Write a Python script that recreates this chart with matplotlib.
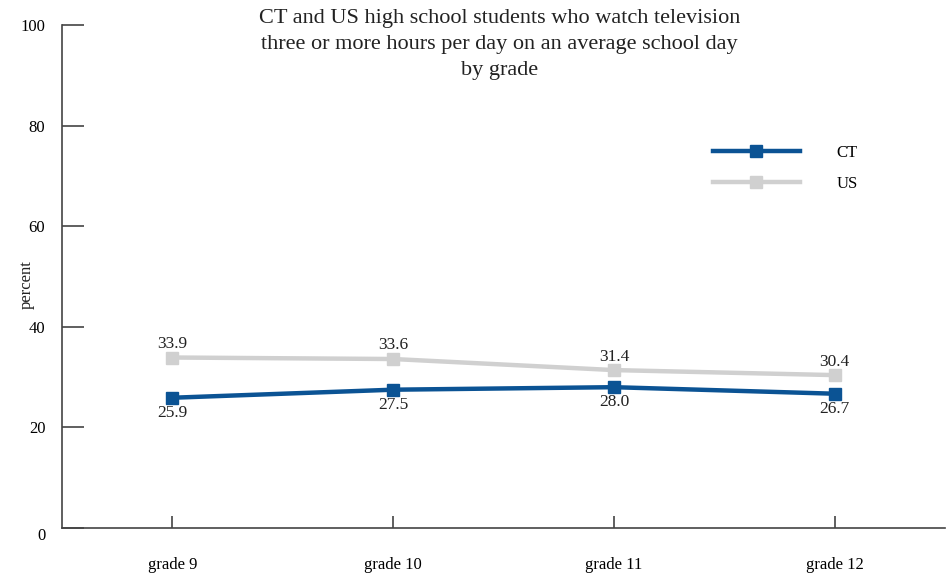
import matplotlib.pyplot as plt

plt.rcParams['font.family'] = ['Liberation Serif', 'DejaVu Serif']

grades = ['grade 9', 'grade 10', 'grade 11', 'grade 12']
ct = [25.9, 27.5, 28.0, 26.7]
us = [33.9, 33.6, 31.4, 30.4]

blue = '#0b5394'
gray = '#d0d0d0'

fig = plt.figure(figsize=(9.52, 5.74), dpi=100)
ax = fig.add_axes([0.0651, 0.0801, 0.9276, 0.8763])

x = range(len(grades))
ax.plot(x, us, color=gray, lw=3.2, marker='s', ms=8, label='US', zorder=2)
ax.plot(x, ct, color=blue, lw=3.2, marker='s', ms=8, label='CT', zorder=3)

for i in x:
    ax.annotate(f'{us[i]:.1f}', (i, us[i]), xytext=(0, 4), textcoords='offset points',
                ha='center', va='bottom', fontsize=12.5, color='#222222')
    ax.annotate(f'{ct[i]:.1f}', (i, ct[i]), xytext=(0, -5), textcoords='offset points',
                ha='center', va='top', fontsize=12.5, color='#222222')

ax.set_xlim(-0.5, 3.5)
ax.set_ylim(0, 100)
ax.set_yticks([0, 20, 40, 60, 80, 100])
ax.set_xticks(list(x))
ax.set_xticklabels(grades)
ax.tick_params(axis='y', direction='in', length=16, width=1.2, color='#444444',
               labelsize=12, pad=12)
ax.tick_params(axis='x', direction='in', length=9, width=1.2, color='#444444',
               labelsize=12, pad=21)
for lab in ax.get_yticklabels():
    if lab.get_text() == '0':
        lab.set_va('top')

for s in ['top', 'right']:
    ax.spines[s].set_visible(False)
for s in ['left', 'bottom']:
    ax.spines[s].set_color('#444444')
    ax.spines[s].set_linewidth(1.2)

fig.text(27 / 952, 1 - 285 / 574, 'percent', rotation=90, ha='center', va='center',
         fontsize=12, color='#222222')

fig.text(0.525, 1 - 9 / 574,
         'CT and US high school students who watch television\n'
         'three or more hours per day on an average school day\nby grade',
         ha='center', va='top', fontsize=16, linespacing=1.5, color='#222222')

h, l = ax.get_legend_handles_labels()
ax.legend(h[::-1], l[::-1], loc='upper right', bbox_to_anchor=(0.918, 0.792), frameon=False,
          fontsize=12, handlelength=5.2, labelspacing=0.9, handletextpad=2.2)

fig.savefig('out.png', dpi=100)
